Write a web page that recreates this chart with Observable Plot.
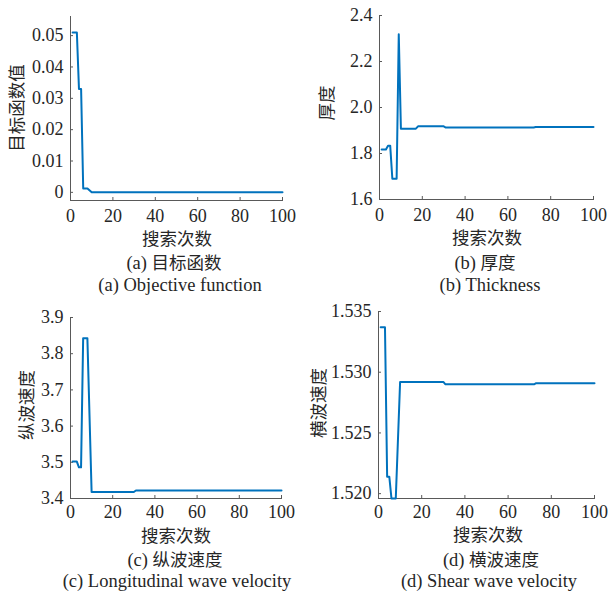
<!DOCTYPE html>
<html><head><meta charset="utf-8">
<script src="https://cdn.jsdelivr.net/npm/d3@7"></script>
<script src="https://cdn.jsdelivr.net/npm/@observablehq/plot@0.6"></script>
<style>
body{margin:0;background:#fff;}
#root{position:relative;width:608px;height:596px;overflow:hidden;font-family:"Liberation Serif","Noto Sans CJK SC",serif;color:#262626;}
.p{position:absolute;}
.p text{font-family:"Liberation Serif",serif !important;}
.t{position:absolute;transform:translate(-50%,-50%);white-space:nowrap;font-size:18.5px;line-height:18px;}
.yl{position:absolute;transform:translate(-50%,-50%) rotate(-90deg);white-space:nowrap;font-size:17.5px;line-height:18px;font-family:"Noto Sans CJK SC",sans-serif;}
.cn{font-family:"Noto Sans CJK SC",sans-serif;font-size:17.5px;line-height:18px;}
</style></head>
<body><div id="root"></div>
<script>
// iterations (breakpoints) and values
const iterA = [1,3,4,5,6,8,10,100];
const valA  = [0.051,0.051,0.033,0.033,0.0012,0.0012,0,0];
const iterB = [1,3,4,5,6,8,9,10,17,18,30,31,72,73,100];
const valB  = [1.817,1.817,1.834,1.834,1.69,1.69,2.318,1.908,1.908,1.918,1.918,1.913,1.913,1.915,1.915];
const iterC = [1,3,4,5,6,8,10,30,31,100];
const valC  = [3.502,3.502,3.486,3.486,3.843,3.843,3.418,3.418,3.422,3.422];
const iterD = [1,3,4,5,6,8,10,30,31,72,73,100];
const valD  = [1.5337,1.5337,1.5214,1.5214,1.5196,1.5196,1.5292,1.5292,1.5290,1.5290,1.5291,1.5291];
const xTicks = [0,20,40,60,80,100];
const yTicksA = [0,0.01,0.02,0.03,0.04,0.05];
const yTicksB = [1.6,1.8,2.0,2.2,2.4];
const yTicksC = [3.4,3.5,3.6,3.7,3.8,3.9];
const yTicksD = [1.520,1.525,1.530,1.535];
const xLabel = "搜索次数";
const yLabels = ["目标函数值","厚度","纵波速度","横波速度"];
const captionsCN = ["(a) 目标函数","(b) 厚度","(c) 纵波速度","(d) 横波速度"];
const captionsEN = ["(a) Objective function","(b) Thickness","(c) Longitudinal wave velocity","(d) Shear wave velocity"];

const root = document.getElementById("root");
const lineColor = "#0072BD";
const axisColor = "#595959";
const serif = "Liberation Serif, serif";

function panel(it, v, yDomain, yTicks, yFmt, box) {
  const data = it.map((x,i)=>({x, y:v[i]}));
  const svg = Plot.plot({
    width: box.w, height: box.h,
    marginLeft: box.ml, marginRight: box.mr, marginTop: box.mt, marginBottom: box.mb,
    style: {fontSize: "18px", fontFamily: serif, color: "#262626", background: "transparent", overflow: "visible"},
    x: {domain: [0,100]},
    y: {domain: yDomain},
    marks: [
      Plot.axisX(xTicks, {tickSize: -3, tickPadding: box.xp, label: null, stroke: axisColor, fontFamily: serif, fontSize: 18, tickFormat: d3.format("d")}),
      Plot.axisY(yTicks, {tickSize: -3, tickPadding: 10, label: null, stroke: axisColor, fontFamily: serif, fontSize: 18, tickFormat: yFmt}),
      Plot.frame({anchor: "left", stroke: axisColor}),
      Plot.frame({anchor: "bottom", stroke: axisColor}),
      Plot.line(data, {x: "x", y: "y", stroke: lineColor, strokeWidth: 2})
    ]
  });
  svg.classList.add("p");
  svg.style.left = box.left + "px";
  svg.style.top = box.top + "px";
  root.appendChild(svg);
}

panel(iterA, valA, [-0.0026, 0.0561], yTicksA, d => d === 0 ? "0" : d3.format(".2f")(d),
  {left:0, top:0, w:302, h:230, ml:70, mr:20, mt:16, mb:30, xp:12});
panel(iterB, valB, [1.6, 2.4], yTicksB, d3.format(".1f"),
  {left:304, top:0, w:304, h:230, ml:75, mr:15, mt:15, mb:31, xp:12});
panel(iterC, valC, [3.4, 3.9], yTicksC, d3.format(".1f"),
  {left:0, top:296, w:302, h:230, ml:70, mr:21, mt:21, mb:28, xp:10});
panel(iterD, valD, [1.5196, 1.535], yTicksD, d3.format(".3f"),
  {left:304, top:296, w:304, h:230, ml:74, mr:14, mt:15, mb:28, xp:10});

function txt(cls, s, x, y) {
  const d = document.createElement("div");
  d.className = cls;
  d.style.left = x + "px"; d.style.top = y + "px";
  d.innerHTML = s;
  root.appendChild(d);
}
const xl = [[177,238],[487,237],[176,535],[488,534]];
const cc = [[174,262],[485,262],[175,559],[491,559]];
const ce = [[180,285],[490,285],[177,581],[489,581]];
const yl = [[16,108],[326,103],[26,405],[318,403]];
for (let i=0;i<4;i++){
  txt("t cn", xLabel, xl[i][0], xl[i][1]);
  const m = captionsCN[i].match(/^(\(\w\)) (.*)$/);
  txt("t", m[1] + ' <span class="cn">' + m[2] + '</span>', cc[i][0], cc[i][1]);
  txt("t", captionsEN[i], ce[i][0], ce[i][1]);
  txt("yl", yLabels[i], yl[i][0], yl[i][1]);
}
</script>
</body></html>
